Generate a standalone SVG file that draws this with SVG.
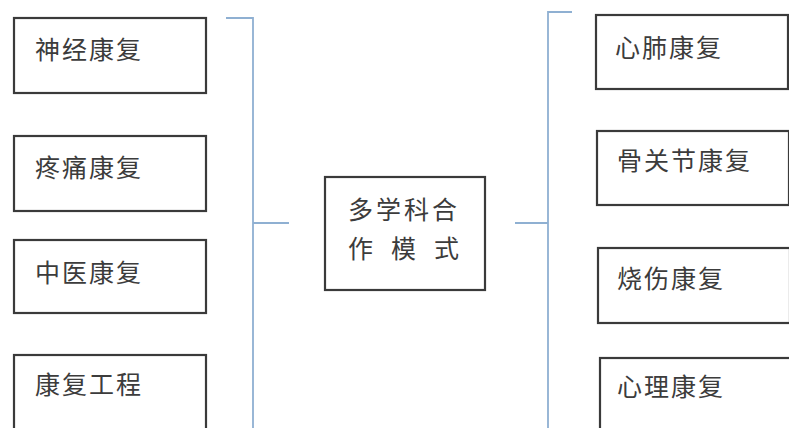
<svg xmlns="http://www.w3.org/2000/svg" width="789" height="428" viewBox="0 0 789 428">
  <style>
    .box { fill: #ffffff; stroke: #3a3a3a; stroke-width: 2.2; }
    .label { font-family: "Noto Sans CJK SC", "Liberation Sans", sans-serif; font-size: 25px; fill: #3c3c3c; letter-spacing: 2px; dominant-baseline: central; }
    .wide { letter-spacing: 3px; }
    .brace { fill: none; stroke: #8fb0d2; stroke-width: 1.8; }
  </style>
  <rect width="789" height="428" fill="#ffffff"/>

  <!-- connectors: brackets joining the side columns to the centre -->
  <g id="connectors">
    <path class="brace" d="M226 18 H253 V428"/>
    <path class="brace" d="M253 223 H289"/>
    <path class="brace" d="M572 12 H548 V428"/>
    <path class="brace" d="M515 223 H548"/>
  </g>

  <!-- left column -->
  <g id="node-shenjing">
    <rect class="box" x="14" y="18" width="192" height="75"/>
    <text class="label" x="35" y="48">神经康复</text>
  </g>
  <g id="node-tengtong">
    <rect class="box" x="14" y="136" width="192" height="75"/>
    <text class="label" x="35" y="166">疼痛康复</text>
  </g>
  <g id="node-zhongyi">
    <rect class="box" x="14" y="240" width="192" height="73"/>
    <text class="label" x="35" y="271">中医康复</text>
  </g>
  <g id="node-gongcheng">
    <rect class="box" x="14" y="355" width="192" height="80"/>
    <text class="label" x="35" y="383">康复工程</text>
  </g>

  <!-- centre -->
  <g id="node-center">
    <rect class="box" x="325" y="177" width="160" height="113"/>
    <text class="label wide" x="348" y="208">多学科合</text>
    <text class="label" y="247"><tspan x="348">作</tspan><tspan x="391">模</tspan><tspan x="434">式</tspan></text>
  </g>

  <!-- right column -->
  <g id="node-xinfei">
    <rect class="box" x="596" y="15" width="192" height="74"/>
    <text class="label" x="615" y="46">心肺康复</text>
  </g>
  <g id="node-guguanjie">
    <rect class="box" x="597" y="131" width="192" height="74"/>
    <text class="label" x="617" y="159">骨关节康复</text>
  </g>
  <g id="node-shaoshang">
    <rect class="box" x="598" y="248" width="192" height="75"/>
    <text class="label" x="617" y="277">烧伤康复</text>
  </g>
  <g id="node-xinli">
    <rect class="box" x="600" y="358" width="192" height="80"/>
    <text class="label" x="617" y="385">心理康复</text>
  </g>
</svg>
